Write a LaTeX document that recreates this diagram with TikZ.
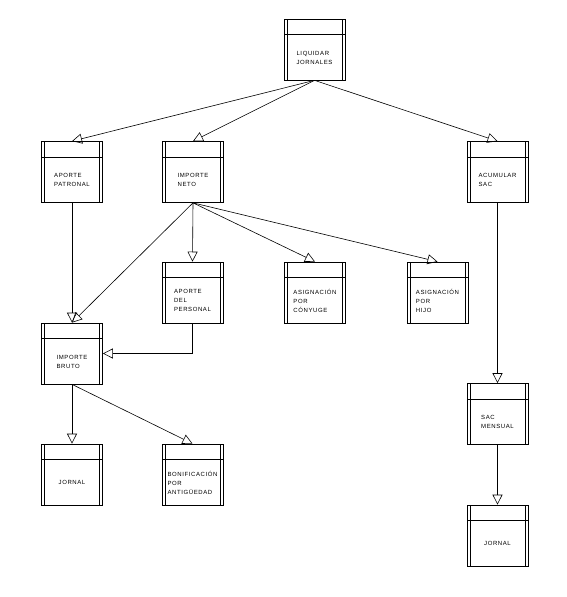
\documentclass[tikz,border=0pt]{standalone}
\usepackage{fontspec}
\newfontfamily\boxfont[LetterSpace=10]{Liberation Sans}
\usetikzlibrary{arrows.meta}
\tikzset{
  box/.style={draw, line width=0.7pt, minimum width=61pt, minimum height=61pt, inner sep=0pt,
    path picture={
      \draw[line width=0.7pt] ([xshift=3pt]path picture bounding box.north west) -- ([xshift=3pt]path picture bounding box.south west);
      \draw[line width=0.7pt] ([xshift=-3pt]path picture bounding box.north east) -- ([xshift=-3pt]path picture bounding box.south east);
      \draw[line width=0.7pt] ([yshift=-15.5pt]path picture bounding box.north west) -- ([yshift=-15.5pt]path picture bounding box.north east);
    },
    label={[lbl]center:{#1}}},
  lbl/.style={font=\boxfont\fontsize{6}{9}\selectfont, align=left, inner sep=0pt, yshift=-8pt},
  conn/.style={line width=0.6pt, -{Triangle[open, length=10pt, width=10pt, line width=0.6pt]}}
}
\begin{document}
\begin{tikzpicture}[x=1pt, y=-1pt]
\useasboundingbox (0,0) rectangle (566,597);
\node[box={LIQUIDAR\\JORNALES}] (liq) at (314.5,49.5) {};
\node[box={APORTE\\PATRONAL}] (ap) at (72,172) {};
\node[box={IMPORTE\\NETO}] (neto) at (193,172) {};
\node[box={ACUMULAR\\SAC}] (acu) at (497.5,172) {};
\node[box={APORTE\\DEL\\PERSONAL}] (adp) at (192.5,292.5) {};
\node[box={ASIGNACIÓN\\POR\\CÓNYUGE}] (con) at (315,292.5) {};
\node[box={ASIGNACIÓN\\POR\\HIJO}] (hijo) at (437.5,292.5) {};
\node[box={IMPORTE\\BRUTO}] (bruto) at (72,353.5) {};
\node[box={JORNAL}] (jor1) at (72,474.5) {};
\node[box={BONIFICACIÓN\\POR\\ANTIGÜEDAD}] (bon) at (192.5,474.5) {};
\node[box={SAC\\MENSUAL}] (sac) at (497.5,414) {};
\node[box={JORNAL}] (jor2) at (497.5,535.5) {};
\draw[conn] (liq.south) -- (ap.north);
\draw[conn] (liq.south) -- (neto.north);
\draw[conn] (liq.south) -- (acu.north);
\draw[conn] (ap.south) -- (bruto.north);
\draw[conn] (neto.south) -- (bruto.north);
\draw[conn] (neto.south) -- (adp.north);
\draw[conn] (neto.south) -- (con.north);
\draw[conn] (neto.south) -- (hijo.north);
\draw[conn] (adp.south) |- (bruto.east);
\draw[conn] (bruto.south) -- (jor1.north);
\draw[conn] (bruto.south) -- (bon.north);
\draw[conn] (acu.south) -- (sac.north);
\draw[conn] (sac.south) -- (jor2.north);
\end{tikzpicture}
\end{document}
